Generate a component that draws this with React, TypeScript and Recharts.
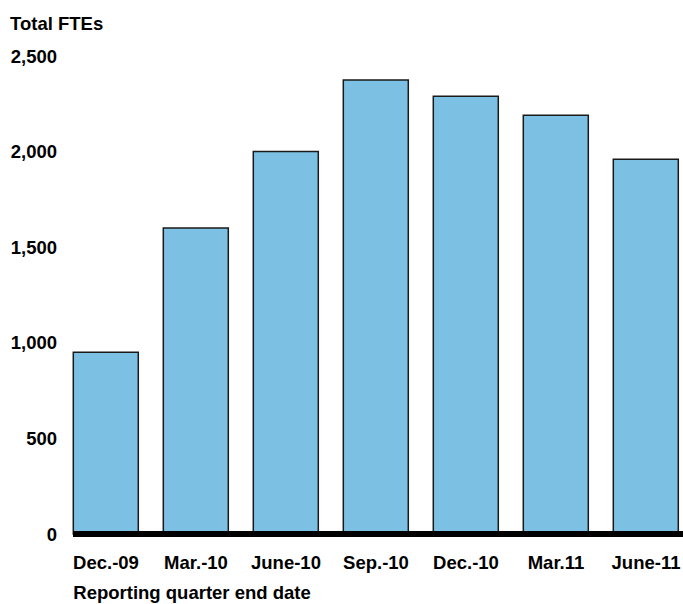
import React from "react";
import { BarChart, Bar, XAxis, YAxis, ReferenceLine } from "recharts";

const quarters = ["Dec.-09", "Mar.-10", "June-10", "Sep.-10", "Dec.-10", "Mar.11", "June-11"];
const ftes = [950, 1600, 2000, 2375, 2290, 2190, 1960];
const yTicks = [0, 500, 1000, 1500, 2000, 2500];

const data = quarters.map((q, i) => ({ quarter: q, ftes: ftes[i] }));

const font = "'Liberation Sans', Arial, sans-serif";
const tickStyle = { fill: "#000", fontSize: 18.5, fontWeight: 700, fontFamily: font };
const titleStyle: React.CSSProperties = {
    position: "absolute",
    fontSize: 18.5,
    fontWeight: 700,
    lineHeight: 1,
    whiteSpace: "nowrap",
};

// thick baseline that starts at the first bar's left edge
const Baseline = (p: any) => (
    <line x1={p.x1 + 12} y1={p.y1} x2={p.x2} y2={p.y2} stroke="#000" strokeWidth={6} />
);

export default function App() {
    return (
        <div style={{ position: "relative", width: 683, height: 604, overflow: "hidden", fontFamily: font }}>
            {/* chart fills the whole window, so drop the default body margin */}
            <style>{"body { margin: 0; }"}</style>
            <div style={{ ...titleStyle, left: 10, top: 14.6 }}>Total FTEs</div>
            <BarChart
                width={683}
                height={604}
                data={data}
                margin={{ top: 56, right: -8, left: 0, bottom: 0 }}
                barCategoryGap={12.3}
            >
                <XAxis
                    dataKey="quarter"
                    axisLine={false}
                    tickLine={false}
                    tickSize={0}
                    tickMargin={22}
                    height={70}
                    interval={0}
                    tick={tickStyle}
                />
                <YAxis
                    domain={[0, 2500]}
                    ticks={yTicks}
                    axisLine={false}
                    tickLine={false}
                    tickSize={0}
                    tickMargin={4}
                    width={61}
                    tick={tickStyle}
                    tickFormatter={(v: number) => v.toLocaleString("en-US")}
                />
                <Bar
                    dataKey="ftes"
                    fill="#7CC0E4"
                    stroke="#1a1a1a"
                    strokeWidth={1.5}
                    isAnimationActive={false}
                />
                <ReferenceLine y={0} shape={Baseline} />
            </BarChart>
            <div style={{ ...titleStyle, left: 73.3, top: 584.3 }}>Reporting quarter end date</div>
        </div>
    );
}
